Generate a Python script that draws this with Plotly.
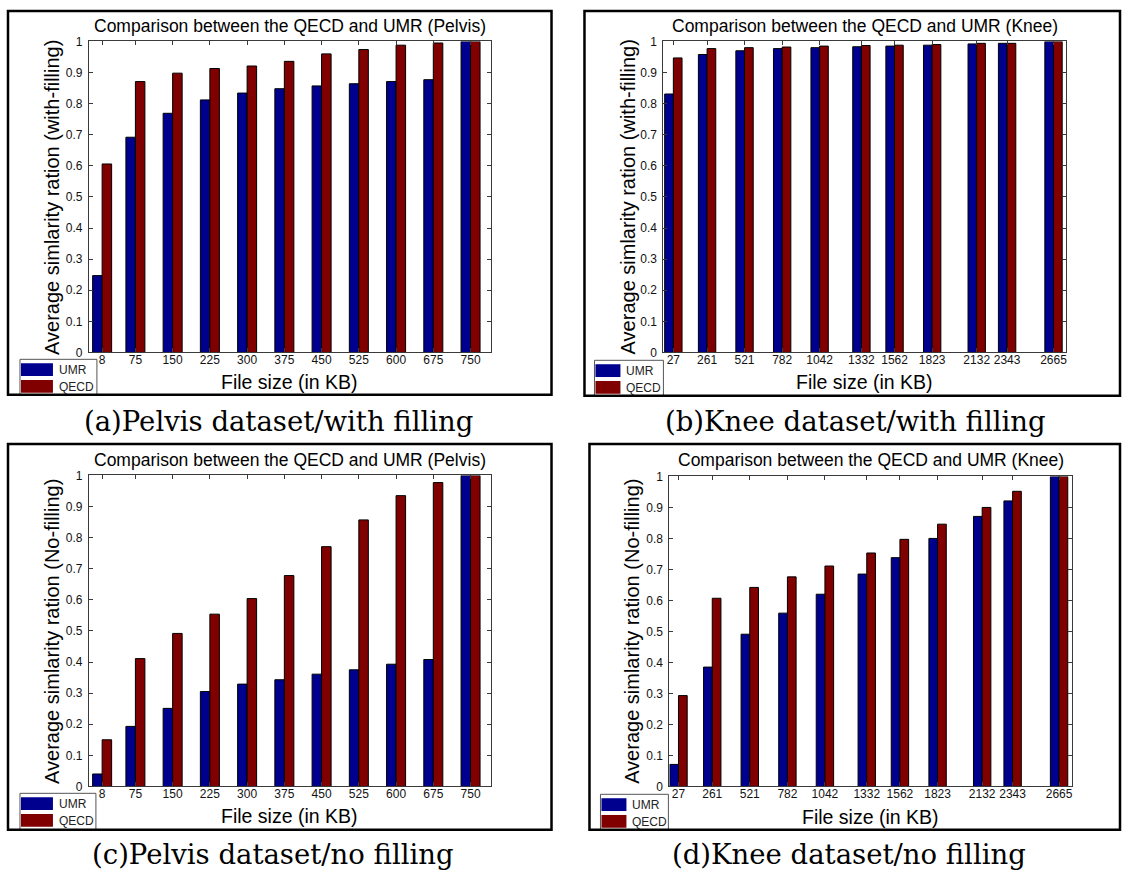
import plotly.graph_objects as go
import numpy as np

W, H = 1123, 882

# ---- data -------------------------------------------------------------
pelvis_sizes = [8, 75, 150, 225, 300, 375, 450, 525, 600, 675, 750]
knee_sizes = [27, 261, 521, 782, 1042, 1332, 1562, 1823, 2132, 2343, 2665]

pelvis_fill_umr = [0.247, 0.692, 0.769, 0.812, 0.834, 0.848, 0.857, 0.864, 0.871, 0.877, 1.0]
pelvis_fill_qecd = [0.606, 0.871, 0.898, 0.913, 0.921, 0.936, 0.960, 0.974, 0.988, 0.995, 1.0]

knee_fill_umr = [0.831, 0.958, 0.970, 0.977, 0.980, 0.983, 0.985, 0.988, 0.992, 0.994, 1.0]
knee_fill_qecd = [0.947, 0.977, 0.980, 0.982, 0.985, 0.987, 0.988, 0.990, 0.994, 0.994, 1.0]

pelvis_nofill_umr = [0.040, 0.193, 0.251, 0.305, 0.329, 0.343, 0.361, 0.375, 0.393, 0.408, 1.0]
pelvis_nofill_qecd = [0.150, 0.411, 0.492, 0.554, 0.604, 0.678, 0.771, 0.857, 0.935, 0.977, 1.0]

knee_nofill_umr = [0.071, 0.385, 0.491, 0.559, 0.620, 0.685, 0.738, 0.800, 0.871, 0.921, 1.0]
knee_nofill_qecd = [0.293, 0.607, 0.642, 0.676, 0.711, 0.753, 0.797, 0.846, 0.900, 0.952, 1.0]

y_ticks = [round(0.1 * k, 1) for k in range(11)]
y_ticktext = ["0", "0.1", "0.2", "0.3", "0.4", "0.5", "0.6", "0.7", "0.8", "0.9", "1"]

series_names = ["UMR", "QECD"]
series_colors = ["#00008F", "#800000"]

# ---- panel layout (pixel boxes) --------------------------------------
panels = [
    dict(sizes=pelvis_sizes, umr=pelvis_fill_umr, qecd=pelvis_fill_qecd,
         xr=[-18.6, 790.3], plot=(89, 491, 35, 351), frame=(8, 552, 4, 394),
         title="Comparison between the QECD and UMR (Pelvis)", title_y=19,
         ytitle="Average simlarity ration (with-filling)", ytitle_x=52,
         xtitle_y=381, legend=(20, 97, 358), caption="(a)Pelvis dataset/with filling",
         cap_x=279, cap_y=421),
    dict(sizes=knee_sizes, umr=knee_fill_umr, qecd=knee_fill_qecd,
         xr=[-42, 2752], plot=(664, 1067, 35, 351), frame=(585, 1121, 4, 395),
         title="Comparison between the QECD and UMR (Knee)", title_y=19,
         ytitle="Average simlarity ration (with-filling)", ytitle_x=628,
         xtitle_y=381, legend=(595, 664, 359), caption="(b)Knee dataset/with filling",
         cap_x=856, cap_y=421),
    dict(sizes=pelvis_sizes, umr=pelvis_nofill_umr, qecd=pelvis_nofill_qecd,
         xr=[-18.6, 790.3], plot=(89, 491, 476, 792), frame=(8, 552, 444, 836),
         title="Comparison between the QECD and UMR (Pelvis)", title_y=460,
         ytitle="Average simlarity ration (No-filling)", ytitle_x=52,
         xtitle_y=822, legend=(20, 96, 799), caption="(c)Pelvis dataset/no filling",
         cap_x=273, cap_y=861),
    dict(sizes=knee_sizes, umr=knee_nofill_umr, qecd=knee_nofill_qecd,
         xr=[-36, 2755], plot=(670, 1073, 477, 792), frame=(590, 1121, 444, 836),
         title="Comparison between the QECD and UMR (Knee)", title_y=460,
         ytitle="Average simlarity ration (No-filling)", ytitle_x=633,
         xtitle_y=823, legend=(601, 669, 800), caption="(d)Knee dataset/no filling",
         cap_x=850, cap_y=861),
]


def fx(px):
    return px / W


def fy(py):
    return 1 - py / H


SANS = "Liberation Sans, Arial, Helvetica, sans-serif"
SERIF = "DejaVu Serif, Liberation Serif, serif"

fig = go.Figure()
layout = dict(
    width=W, height=H, autosize=False,
    margin=dict(l=0, r=0, t=0, b=0, pad=0),
    paper_bgcolor="white", plot_bgcolor="white",
    showlegend=False, barmode="overlay",
)
shapes = []
annotations = []

for i, p in enumerate(panels, start=1):
    sx = "" if i == 1 else str(i)
    xa, ya = "x" + sx, "y" + sx
    left, right, top, bottom = p["plot"]

    # grouped bar widths: 4/7 of the tightest spacing, split between the two series
    bw = float(np.min(np.diff(p["sizes"]))) * 4 / 7 / 2
    for name, vals, col, off in [("UMR", p["umr"], series_colors[0], -bw),
                                 ("QECD", p["qecd"], series_colors[1], 0.0)]:
        fig.add_trace(go.Bar(
            x=p["sizes"], y=vals, name=name, width=bw, offset=off,
            marker=dict(color=col, line=dict(color="black", width=1)),
            xaxis=xa, yaxis=ya, showlegend=False,
        ))

    axis_common = dict(
        showline=True, linecolor="#3a3a3a", linewidth=1, mirror="ticks",
        ticks="inside", ticklen=4, tickwidth=1, tickcolor="#3a3a3a",
        showgrid=False, zeroline=False, fixedrange=True,
        tickfont=dict(family=SANS, size=12, color="#111"),
    )
    layout["xaxis" + sx] = dict(
        axis_common, domain=[fx(left), fx(right)], range=p["xr"],
        tickmode="array", tickvals=p["sizes"], ticktext=[str(s) for s in p["sizes"]],
        anchor=ya, ticklabelstandoff=-4,
    )
    layout["yaxis" + sx] = dict(
        axis_common, domain=[fy(bottom), fy(top)], range=[0, 1],
        tickmode="array", tickvals=y_ticks, ticktext=y_ticktext,
        anchor=xa, ticklabelstandoff=3,
    )

    cx = (left + right) / 2
    annotations += [
        dict(text=p["title"], x=fx(cx), y=fy(p["title_y"]), xref="paper", yref="paper",
             xanchor="center", yanchor="middle", showarrow=False,
             font=dict(family=SANS, size=17.5, color="black")),
        dict(text="File size (in KB)", x=fx(cx), y=fy(p["xtitle_y"]), xref="paper", yref="paper",
             xanchor="center", yanchor="middle", showarrow=False,
             font=dict(family=SANS, size=19.5, color="black")),
        dict(text=p["ytitle"], x=fx(p["ytitle_x"]), y=fy((top + bottom) / 2),
             xref="paper", yref="paper", textangle=-90,
             xanchor="center", yanchor="middle", showarrow=False,
             font=dict(family=SANS, size=20, color="black")),
        dict(text=p["caption"], x=fx(p["cap_x"]), y=fy(p["cap_y"]), xref="paper", yref="paper",
             xanchor="center", yanchor="middle", showarrow=False,
             font=dict(family=SERIF, size=27.5, color="black")),
    ]

    # legend box in the lower-left corner of the frame
    lx0, lx1, ly0 = p["legend"]
    fb = p["frame"][3]
    shapes.append(dict(type="rect", xref="paper", yref="paper",
                       x0=fx(lx0), x1=fx(lx1), y0=fy(fb), y1=fy(ly0),
                       line=dict(color="#555", width=1), fillcolor="white", layer="above"))
    sw = 32 if lx1 - lx0 > 72 else 25
    for k, (name, col) in enumerate(zip(series_names, series_colors)):
        y0 = ly0 + 4 + k * 17
        shapes.append(dict(type="rect", xref="paper", yref="paper",
                           x0=fx(lx0 + 1), x1=fx(lx0 + 1 + sw), y0=fy(y0 + 13), y1=fy(y0),
                           line=dict(width=0), fillcolor=col, layer="above"))
        annotations.append(dict(text=name, x=fx(lx0 + sw + 5), y=fy(y0 + 7),
                                xref="paper", yref="paper", xanchor="left", yanchor="middle",
                                showarrow=False,
                                font=dict(family=SANS, size=12, color="#222")))

    # outer frame around each panel
    f0, f1, ft, fbm = p["frame"]
    shapes.append(dict(type="rect", xref="paper", yref="paper",
                       x0=fx(f0), x1=fx(f1), y0=fy(fbm), y1=fy(ft),
                       line=dict(color="black", width=2.5), layer="above"))

layout["shapes"] = shapes
layout["annotations"] = annotations
fig.update_layout(**layout)
fig.write_html("out.html", config={"displayModeBar": False})
